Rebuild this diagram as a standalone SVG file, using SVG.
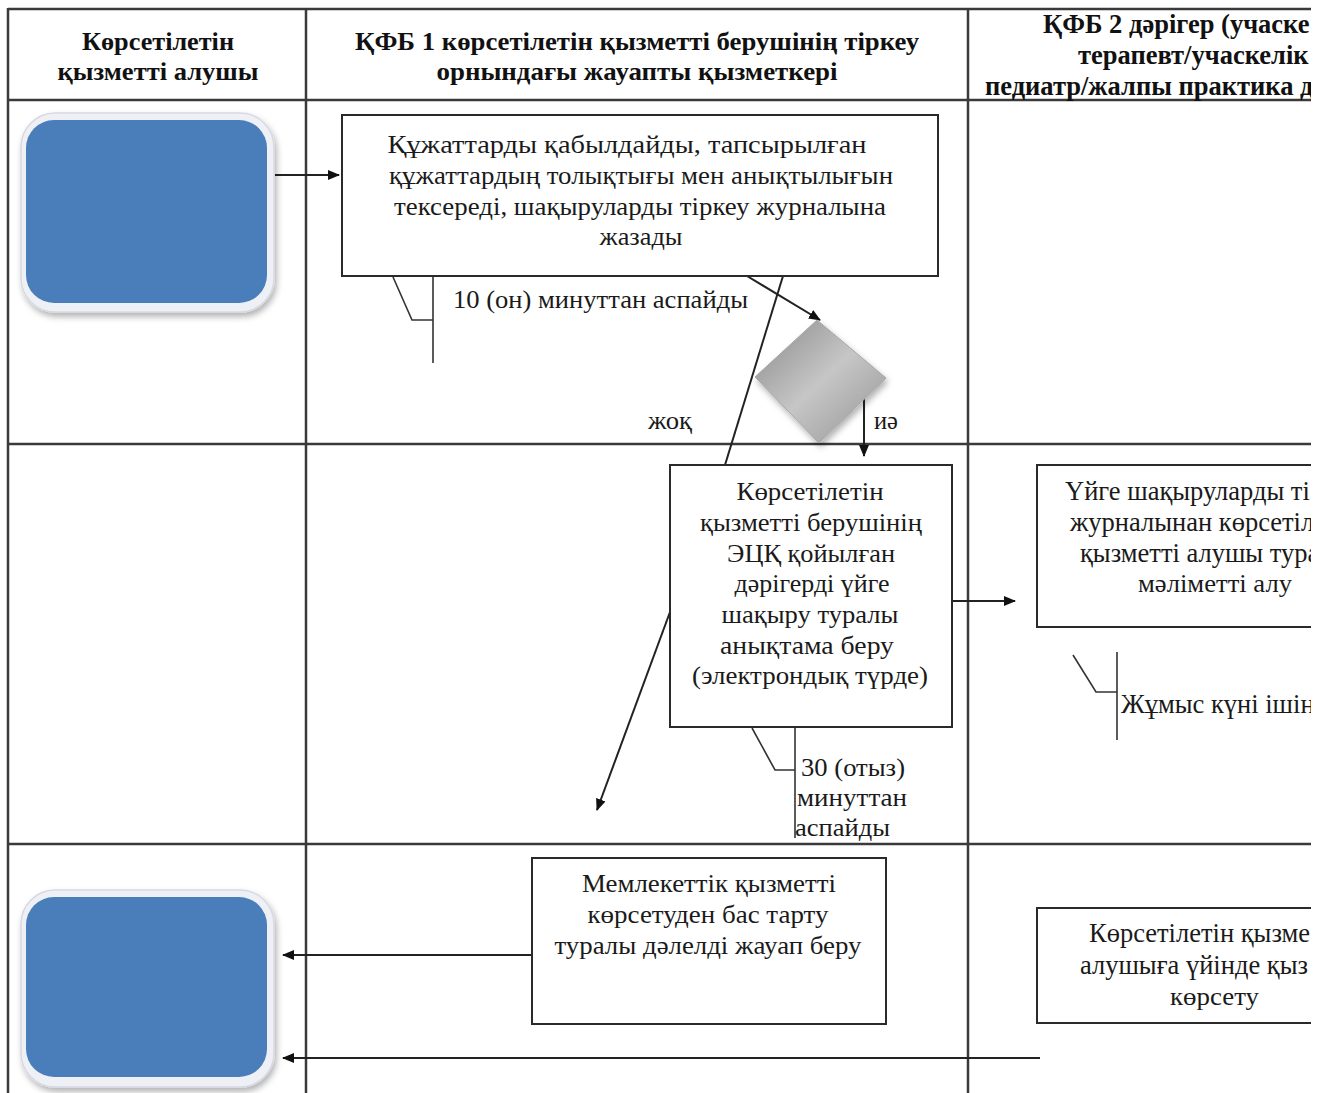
<svg xmlns="http://www.w3.org/2000/svg" width="1329" height="1093" viewBox="0 0 1329 1093">
  <style>
    .grid { stroke: #3a3a3a; stroke-width: 2.5; fill: none; }
    .box { fill: #ffffff; stroke: #2a2a2a; stroke-width: 2; }
    .conn { stroke: #222; stroke-width: 2; fill: none; }
    .brk { stroke: #333; stroke-width: 1.6; fill: none; }
    .hd { font-family: "Liberation Serif", "Times New Roman", serif; font-weight: bold; font-size: 26px; fill: #111; }
    .tx { font-family: "Liberation Serif", "Times New Roman", serif; font-size: 26px; fill: #1a1a1a; }
    .cut { font-size: 26.5px; }
    .mid { text-anchor: middle; }
    .rim { fill: #eef0f5; stroke: #d6d9e2; stroke-width: 1.5; }
    .blue { fill: #4a7ebb; }
  </style>
  <defs>
    <marker id="arrow" viewBox="0 0 12 10" refX="11" refY="5" markerWidth="12" markerHeight="10" markerUnits="userSpaceOnUse" orient="auto">
      <path d="M0,0 L12,5 L0,10 Z" fill="#111"/>
    </marker>
    <linearGradient id="diamondFill" x1="0" y1="0" x2="1" y2="1">
      <stop offset="0" stop-color="#888888"/>
      <stop offset="0.5" stop-color="#c6c6c6"/>
      <stop offset="1" stop-color="#939393"/>
    </linearGradient>
    <filter id="soft" x="-10%" y="-10%" width="125%" height="130%">
      <feGaussianBlur in="SourceAlpha" stdDeviation="3"/>
      <feOffset dx="2" dy="4" result="b"/>
      <feFlood flood-color="#000" flood-opacity="0.3"/>
      <feComposite in2="b" operator="in"/>
      <feMerge><feMergeNode/><feMergeNode in="SourceGraphic"/></feMerge>
    </filter>
    <clipPath id="page"><rect x="0" y="0" width="1311" height="1093"/></clipPath>
  </defs>

  <rect x="0" y="0" width="1329" height="1093" fill="#ffffff"/>

  <g clip-path="url(#page)">
    <!-- swimlane grid -->
    <g id="lanes">
      <line class="grid" x1="8" y1="9" x2="1311" y2="9"/>
      <line class="grid" x1="8" y1="100" x2="1311" y2="100"/>
      <line class="grid" x1="8" y1="444" x2="1311" y2="444"/>
      <line class="grid" x1="8" y1="844" x2="1311" y2="844"/>
      <line class="grid" x1="8" y1="8" x2="8" y2="1093"/>
      <line class="grid" x1="306" y1="9" x2="306" y2="1093" stroke-width="1.8"/>
      <line class="grid" x1="968" y1="9" x2="968" y2="1093" stroke-width="1.8"/>
    </g>

    <!-- lane headers -->
    <g id="header-recipient">
      <text class="hd mid" x="158" y="50" textLength="152" lengthAdjust="spacingAndGlyphs">Көрсетілетін</text>
      <text class="hd mid" x="158" y="80" textLength="201" lengthAdjust="spacingAndGlyphs">қызметті алушы</text>
    </g>
    <g id="header-registrar">
      <text class="hd mid" x="637" y="50" textLength="564" lengthAdjust="spacingAndGlyphs">ҚФБ 1 көрсетілетін қызметті берушінің тіркеу</text>
      <text class="hd mid" x="637" y="80" textLength="401" lengthAdjust="spacingAndGlyphs">орнындағы жауапты қызметкері</text>
    </g>
    <g id="header-doctor">
      <text class="hd cut" x="1043" y="33">ҚФБ 2 дәрігер (учаске</text>
      <text class="hd cut" x="1078" y="64">терапевт/учаскелік</text>
      <text class="hd cut" x="985" y="95">педиатр/жалпы практика д</text>
    </g>

    <!-- connectors -->
    <g id="connectors">
      <line class="conn" x1="275" y1="175" x2="339" y2="175" marker-end="url(#arrow)"/>
      <line class="conn" x1="747" y1="276" x2="820" y2="320" marker-end="url(#arrow)"/>
      <line class="conn" x1="783" y1="276" x2="725" y2="465"/>
      <line class="conn" x1="864" y1="391" x2="864" y2="456" marker-end="url(#arrow)"/>
      <line class="conn" x1="670" y1="612" x2="597" y2="810" marker-end="url(#arrow)"/>
      <line class="conn" x1="952" y1="601" x2="1015" y2="601" marker-end="url(#arrow)"/>
      <line class="conn" x1="532" y1="955" x2="283" y2="955" marker-end="url(#arrow)"/>
      <line class="conn" x1="1040" y1="1058" x2="283" y2="1058" marker-end="url(#arrow)"/>
    </g>

    <!-- start terminator -->
    <g id="start">
      <rect class="rim" x="21" y="113" width="253" height="199" rx="34" filter="url(#soft)"/>
      <rect class="blue" x="26" y="120" width="241" height="183" rx="28"/>
    </g>

    <!-- end terminator -->
    <g id="finish">
      <rect class="rim" x="21" y="890" width="253" height="197" rx="34" filter="url(#soft)"/>
      <rect class="blue" x="26" y="897" width="241" height="180" rx="28"/>
    </g>

    <g id="accept-documents">
      <rect class="box" x="342" y="115" width="596" height="161"/>
      <text class="tx mid" x="627" y="153" textLength="479" lengthAdjust="spacingAndGlyphs">Құжаттарды қабылдайды, тапсырылған</text>
      <text class="tx mid" x="641" y="184" textLength="504" lengthAdjust="spacingAndGlyphs">құжаттардың толықтығы мен анықтылығын</text>
      <text class="tx mid" x="640" y="215" textLength="492" lengthAdjust="spacingAndGlyphs">тексереді, шақыруларды тіркеу журналына</text>
      <text class="tx mid" x="641" y="245" textLength="83" lengthAdjust="spacingAndGlyphs">жазады</text>
    </g>

    <g id="time-10min">
      <polyline class="brk" points="393,277 412,320 433,320"/>
      <line class="brk" x1="433" y1="277" x2="433" y2="363"/>
      <text class="tx" x="453" y="308" textLength="295" lengthAdjust="spacingAndGlyphs">10 (он) минуттан аспайды</text>
    </g>

    <g id="decision">
      <polygon points="817,320 886,378 819,443 755,377" fill="url(#diamondFill)" stroke="#a8a8a8" stroke-width="1" filter="url(#soft)"/>
      <text class="tx" x="648" y="429" textLength="44" lengthAdjust="spacingAndGlyphs">жоқ</text>
      <text class="tx" x="874" y="429" textLength="24" lengthAdjust="spacingAndGlyphs">иә</text>
    </g>

    <g id="issue-certificate">
      <rect class="box" x="670" y="465" width="282" height="262"/>
      <text class="tx mid" x="810" y="500" textLength="147" lengthAdjust="spacingAndGlyphs">Көрсетілетін</text>
      <text class="tx mid" x="811" y="531" textLength="222" lengthAdjust="spacingAndGlyphs">қызметті берушінің</text>
      <text class="tx mid" x="811" y="562" textLength="168" lengthAdjust="spacingAndGlyphs">ЭЦҚ қойылған</text>
      <text class="tx mid" x="812" y="592" textLength="155" lengthAdjust="spacingAndGlyphs">дәрігерді үйге</text>
      <text class="tx mid" x="810" y="623" textLength="177" lengthAdjust="spacingAndGlyphs">шақыру туралы</text>
      <text class="tx mid" x="807" y="654" textLength="174" lengthAdjust="spacingAndGlyphs">анықтама беру</text>
      <text class="tx mid" x="810" y="684" textLength="236" lengthAdjust="spacingAndGlyphs">(электрондық түрде)</text>
    </g>

    <g id="time-30min">
      <polyline class="brk" points="752,728 775,770 795,770"/>
      <line class="brk" x1="795" y1="728" x2="795" y2="838"/>
      <text class="tx" x="801" y="776" textLength="104" lengthAdjust="spacingAndGlyphs">30 (отыз)</text>
      <text class="tx" x="797" y="806" textLength="110" lengthAdjust="spacingAndGlyphs">минуттан</text>
      <text class="tx" x="795" y="836" textLength="95" lengthAdjust="spacingAndGlyphs">аспайды</text>
    </g>

    <g id="receive-call-info">
      <rect class="box" x="1037" y="465" width="300" height="162"/>
      <text class="tx cut" x="1065" y="500">Үйге шақыруларды ті</text>
      <text class="tx cut" x="1070" y="531">журналынан көрсетіл</text>
      <text class="tx cut" x="1080" y="562">қызметті алушы тура</text>
      <text class="tx" x="1138" y="592" textLength="154" lengthAdjust="spacingAndGlyphs">мәліметті алу</text>
    </g>

    <g id="time-workday">
      <polyline class="brk" points="1073,655 1096,692 1117,692"/>
      <line class="brk" x1="1117" y1="652" x2="1117" y2="740"/>
      <text class="tx cut" x="1121" y="713">Жұмыс күні ішін</text>
    </g>

    <g id="refusal">
      <rect class="box" x="532" y="858" width="354" height="166"/>
      <text class="tx mid" x="709" y="892" textLength="254" lengthAdjust="spacingAndGlyphs">Мемлекеттік қызметті</text>
      <text class="tx mid" x="708" y="923" textLength="241" lengthAdjust="spacingAndGlyphs">көрсетуден бас тарту</text>
      <text class="tx mid" x="708" y="954" textLength="307" lengthAdjust="spacingAndGlyphs">туралы дәлелді жауап беру</text>
    </g>

    <g id="home-service">
      <rect class="box" x="1037" y="908" width="300" height="115"/>
      <text class="tx cut" x="1089" y="942">Көрсетілетін қызме</text>
      <text class="tx cut" x="1080" y="974">алушыға үйінде қыз</text>
      <text class="tx" x="1170" y="1005" textLength="89" lengthAdjust="spacingAndGlyphs">көрсету</text>
    </g>
  </g>
</svg>
